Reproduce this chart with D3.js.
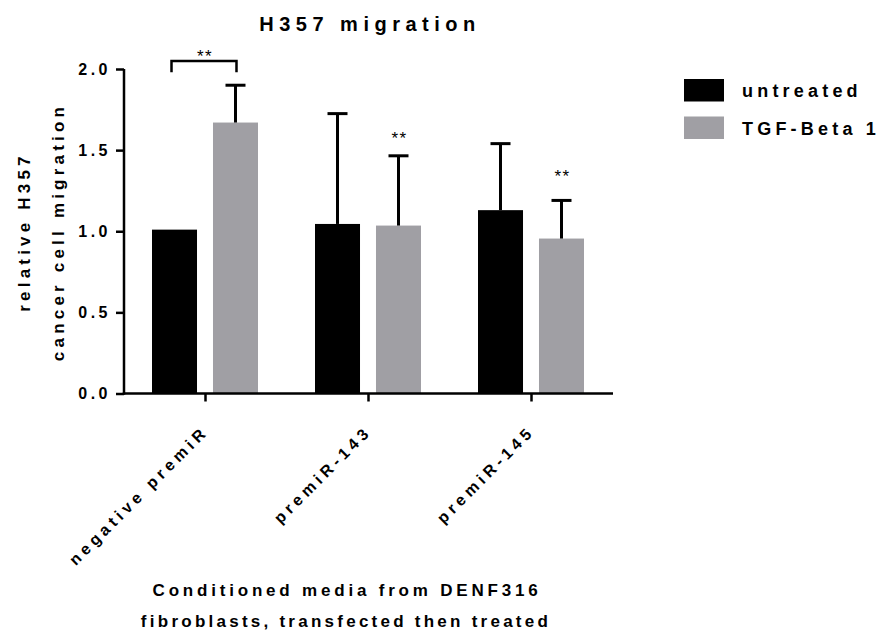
<!DOCTYPE html>
<html>
<head>
<meta charset="utf-8">
<script src="https://cdn.jsdelivr.net/npm/d3@7"></script>
<style>
  body { margin: 0; background: #fff; }
  text { font-family: "Liberation Sans", Arial, sans-serif; font-weight: bold; fill: #000; }
</style>
</head>
<body>
<svg id="chart" width="883" height="633"></svg>
<script>
const categories = ["negative premiR", "premiR-143", "premiR-145"];
const seriesNames = ["untreated", "TGF-Beta 1"];
const untreatedMean = [1.01, 1.045, 1.13];
const untreatedErr  = [0.0, 0.68, 0.41];
const tgfMean = [1.67, 1.035, 0.955];
const tgfErr  = [0.23, 0.43, 0.235];
const yTicks = [0, 0.5, 1.0, 1.5, 2.0];
const colors = ["#000000", "#a09fa4"];
// significance annotations: single-bar stars (category index, y value)
const starCats = [1, 2];
const starVals = [1.59, 1.355];
// bracket across group 0
const bracketCat = 0, bracketY = 2.05, bracketDrop = 0.07, bracketStarY = 2.09;

const svg = d3.select("#chart");
const FONT = "'Liberation Sans', Arial, sans-serif";
const left = 124, right = 613;

const x0 = d3.scaleBand().domain(categories).range([left, right]).paddingInner(0).paddingOuter(0);
const x1 = d3.scaleBand().domain(seriesNames).range([28, 134]).paddingInner(0.262).paddingOuter(0);
const y = d3.scaleLinear().domain([0, 2]).range([393.5, 69]);

const data = categories.map((c, i) => ({
  cat: c,
  vals: [
    {s: seriesNames[0], m: untreatedMean[i], e: untreatedErr[i], c: colors[0]},
    {s: seriesNames[1], m: tgfMean[i], e: tgfErr[i], c: colors[1]}
  ]
}));

// bars
const groups = svg.append("g").selectAll(".grp").data(data).enter().append("g")
  .attr("transform", d => `translate(${x0(d.cat)},0)`);
groups.selectAll("rect").data(d => d.vals).enter().append("rect")
  .attr("x", d => x1(d.s))
  .attr("width", x1.bandwidth())
  .attr("y", d => y(d.m))
  .attr("height", d => y(0) - y(d.m))
  .attr("fill", d => d.c);

// error bars (upper only)
const eb = groups.selectAll(".eb").data(d => d.vals.filter(v => v.e > 0)).enter().append("g");
eb.append("line")
  .attr("x1", d => x1(d.s) + x1.bandwidth()/2)
  .attr("x2", d => x1(d.s) + x1.bandwidth()/2)
  .attr("y1", d => y(d.m))
  .attr("y2", d => y(d.m + d.e))
  .attr("stroke", "#000").attr("stroke-width", 3);
eb.append("line")
  .attr("x1", d => x1(d.s) + x1.bandwidth()/2 - 10)
  .attr("x2", d => x1(d.s) + x1.bandwidth()/2 + 10)
  .attr("y1", d => y(d.m + d.e))
  .attr("y2", d => y(d.m + d.e))
  .attr("stroke", "#000").attr("stroke-width", 3);

// axes
const yAxis = d3.axisLeft(y).tickValues(yTicks).tickFormat(d3.format(".1f")).tickSize(8).tickPadding(5);
const ya = svg.append("g").attr("transform", `translate(${left},0)`).call(yAxis);
ya.select(".domain").attr("stroke-width", 2.5).attr("d", `M0,${y(0)+1.25}V${y(2)}`);
ya.selectAll(".tick line").attr("stroke-width", 2.5);
ya.selectAll(".tick text").style("font-size", "16px").style("letter-spacing", "3.5px")
  .style("font-family", FONT).style("font-weight", "bold");

const xAxis = d3.axisBottom(x0).tickSize(8);
const xa = svg.append("g").attr("transform", `translate(0,${y(0)})`).call(xAxis);
xa.select(".domain").attr("stroke-width", 2.5).attr("d", `M${left - 1.25},0H${right}`);
xa.selectAll(".tick line").attr("stroke-width", 2.5);
xa.selectAll(".tick text")
  .style("font-size", "16px").style("letter-spacing", "4.3px")
  .style("font-family", FONT).style("font-weight", "bold")
  .attr("text-anchor", "end")
  .attr("dy", 0).attr("y", 0).attr("x", 0)
  .attr("transform", "translate(4,39) rotate(-45)");

// title
svg.append("text").attr("x", 370).attr("y", 31).attr("text-anchor", "middle")
  .style("font-size", "20px").style("letter-spacing", "5.5px").text("H357 migration");

// y label
const yl = svg.append("text").attr("transform", "translate(0,232) rotate(-90)")
  .attr("text-anchor", "middle").style("font-size", "17px").style("letter-spacing", "4.2px");
yl.append("tspan").attr("x", 0).attr("y", 30).text("relative H357");
yl.append("tspan").attr("x", 0).attr("y", 64).text("cancer cell migration");

// x label
svg.append("text").attr("text-anchor", "middle").style("font-size", "17px").style("letter-spacing", "3.8px")
  .attr("x", 347).attr("y", 596).text("Conditioned media from DENF316");
svg.append("text").attr("text-anchor", "middle").style("font-size", "17px").style("letter-spacing", "3.25px")
  .attr("x", 346).attr("y", 627).text("fibroblasts, transfected then treated");

// legend
const lg = svg.append("g").attr("transform", "translate(684,79)");
seriesNames.forEach((s, i) => {
  lg.append("rect").attr("x", 0).attr("y", i * 37.5).attr("width", 40).attr("height", 22.5).attr("fill", colors[i]);
  lg.append("text").attr("x", 58).attr("y", i * 37.5 + 18).style("font-size", "18px").style("letter-spacing", "4.2px").text(s);
});

// significance stars
starCats.forEach((ci, k) => {
  const cx = x0(categories[ci]) + x1(seriesNames[1]) + x1.bandwidth()/2;
  svg.append("text").attr("x", cx + 1).attr("y", y(starVals[k]) + 8).attr("text-anchor", "middle")
    .style("font-size", "17px").style("font-weight", "normal").style("letter-spacing", "1.5px").text("**");
});
const bx1 = x0(categories[bracketCat]) + x1(seriesNames[0]) + x1.bandwidth()/2 - 3;
const bx2 = x0(categories[bracketCat]) + x1(seriesNames[1]) + x1.bandwidth()/2 + 1;
svg.append("path")
  .attr("d", `M${bx1},${y(bracketY - bracketDrop)}V${y(bracketY)}H${bx2}V${y(bracketY - bracketDrop)}`)
  .attr("fill", "none").attr("stroke", "#000").attr("stroke-width", 2.5);
svg.append("text").attr("x", (bx1 + bx2)/2 + 1).attr("y", y(bracketStarY) + 8).attr("text-anchor", "middle")
  .style("font-size", "17px").style("font-weight", "normal").style("letter-spacing", "1.5px").text("**");
</script>
</body>
</html>
